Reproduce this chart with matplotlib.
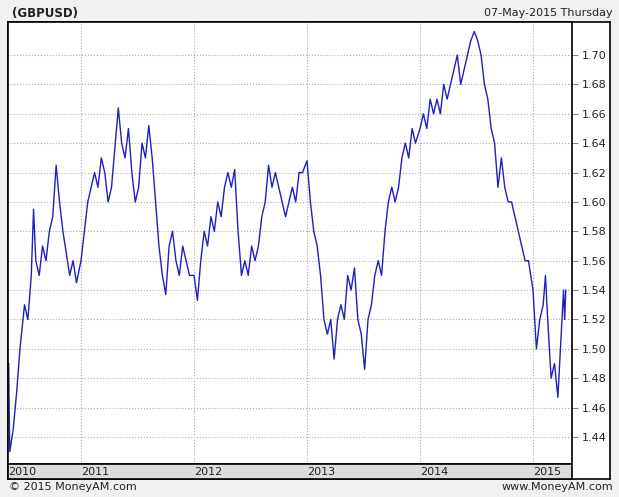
import numpy as np
import matplotlib.pyplot as plt

# GBPUSD, time in fractional years
t = [2010.36, 2010.365, 2010.37, 2010.40, 2010.43, 2010.46, 2010.50, 2010.53, 2010.56, 2010.58,
     2010.60, 2010.63, 2010.66, 2010.69, 2010.72, 2010.75, 2010.78, 2010.81, 2010.84, 2010.87,
     2010.90, 2010.93, 2010.96, 2011.00, 2011.03, 2011.06, 2011.09, 2011.12, 2011.15, 2011.18,
     2011.21, 2011.24, 2011.27, 2011.30, 2011.33, 2011.36, 2011.39, 2011.42, 2011.45, 2011.48,
     2011.51, 2011.54, 2011.57, 2011.60, 2011.63, 2011.66, 2011.69, 2011.72, 2011.75, 2011.78,
     2011.81, 2011.84, 2011.87, 2011.90, 2011.93, 2011.96, 2012.00, 2012.03, 2012.06, 2012.09,
     2012.12, 2012.15, 2012.18, 2012.21, 2012.24, 2012.27, 2012.30, 2012.33, 2012.36, 2012.39,
     2012.42, 2012.45, 2012.48, 2012.51, 2012.54, 2012.57, 2012.60, 2012.63, 2012.66, 2012.69,
     2012.72, 2012.75, 2012.78, 2012.81, 2012.84, 2012.87, 2012.90, 2012.93, 2012.96, 2013.00,
     2013.03, 2013.06, 2013.09, 2013.12, 2013.15, 2013.18, 2013.21, 2013.24, 2013.27, 2013.30,
     2013.33, 2013.36, 2013.39, 2013.42, 2013.45, 2013.48, 2013.51, 2013.54, 2013.57, 2013.60,
     2013.63, 2013.66, 2013.69, 2013.72, 2013.75, 2013.78, 2013.81, 2013.84, 2013.87, 2013.90,
     2013.93, 2013.96, 2014.00, 2014.03, 2014.06, 2014.09, 2014.12, 2014.15, 2014.18, 2014.21,
     2014.24, 2014.27, 2014.30, 2014.33, 2014.36, 2014.39, 2014.42, 2014.45, 2014.48, 2014.51,
     2014.54, 2014.57, 2014.60, 2014.63, 2014.66, 2014.69, 2014.72, 2014.75, 2014.78, 2014.81,
     2014.84, 2014.87, 2014.90, 2014.93, 2014.96, 2015.00, 2015.03, 2015.06, 2015.09, 2015.11,
     2015.13, 2015.16, 2015.19, 2015.22, 2015.25, 2015.27, 2015.28, 2015.29]
price = [1.490, 1.455, 1.430, 1.445, 1.470, 1.500, 1.530, 1.520, 1.550, 1.595,
         1.560, 1.550, 1.570, 1.560, 1.580, 1.590, 1.625, 1.600, 1.580, 1.565,
         1.550, 1.560, 1.545, 1.560, 1.580, 1.600, 1.610, 1.620, 1.610, 1.630,
         1.620, 1.600, 1.610, 1.637, 1.664, 1.640, 1.630, 1.650, 1.620, 1.600,
         1.610, 1.640, 1.630, 1.652, 1.630, 1.600, 1.570, 1.550, 1.537, 1.570,
         1.580, 1.560, 1.550, 1.570, 1.560, 1.550, 1.550, 1.533, 1.560, 1.580,
         1.570, 1.590, 1.580, 1.600, 1.590, 1.610, 1.620, 1.610, 1.622, 1.580,
         1.550, 1.560, 1.550, 1.570, 1.560, 1.570, 1.590, 1.600, 1.625, 1.610,
         1.620, 1.610, 1.600, 1.590, 1.600, 1.610, 1.600, 1.620, 1.620, 1.628,
         1.600, 1.580, 1.570, 1.550, 1.520, 1.510, 1.520, 1.493, 1.520, 1.530,
         1.520, 1.550, 1.540, 1.555, 1.520, 1.510, 1.486, 1.520, 1.530, 1.550,
         1.560, 1.550, 1.580, 1.600, 1.610, 1.600, 1.610, 1.630, 1.640, 1.630,
         1.650, 1.640, 1.650, 1.660, 1.650, 1.670, 1.660, 1.670, 1.660, 1.680,
         1.670, 1.680, 1.690, 1.700, 1.680, 1.690, 1.700, 1.710, 1.716, 1.710,
         1.700, 1.680, 1.670, 1.650, 1.640, 1.610, 1.630, 1.610, 1.600, 1.600,
         1.590, 1.580, 1.570, 1.560, 1.560, 1.540, 1.500, 1.520, 1.530, 1.550,
         1.520, 1.480, 1.490, 1.467, 1.510, 1.540, 1.520, 1.540]

years = [2010, 2011, 2012, 2013, 2014, 2015]
yticks = [1.44, 1.46, 1.48, 1.50, 1.52, 1.54, 1.56, 1.58, 1.60, 1.62, 1.64, 1.66, 1.68, 1.70]

W, H = 619, 497
fig = plt.figure(figsize=(W / 100, H / 100), dpi=100)
fig.patch.set_facecolor('#f0f0f0')

def box(x0, y0, x1, y1):
    return [x0 / W, 1 - y1 / H, (x1 - x0) / W, (y1 - y0) / H]

# outer white frame including the right label panel
bg = fig.add_axes(box(8, 22, 610, 479))
bg.set_facecolor('white')
bg.set_xticks([]); bg.set_yticks([])
for s in bg.spines.values():
    s.set_linewidth(1.2)

x0, x1 = 2010.354, 2015.345
ax = fig.add_axes(box(8, 22, 572, 464))
ax.plot(t, price, color='#1f1fbf', linewidth=1.0)
ax.set_xlim(x0, x1)
ax.set_ylim(1.4216, 1.7225)
ax.set_xticks(years[1:])
ax.set_xticklabels([])
ax.tick_params(axis='x', length=0)
ax.yaxis.tick_right()
ax.set_yticks(yticks)
ax.set_yticklabels([f'{v:.2f}' for v in yticks], fontsize=8, color='#222222')
ax.tick_params(axis='y', length=4, direction='out', color='#888888', pad=3)
ax.grid(True, color='#aaaaaa', linestyle=':', linewidth=0.8)
for s in ax.spines.values():
    s.set_linewidth(1.2)

# date strip
ds = fig.add_axes(box(8, 464, 572, 479))
ds.set_facecolor('#dcdcdc')
ds.set_xlim(x0, x1)
ds.set_ylim(0, 1)
ds.set_xticks([]); ds.set_yticks([])
for s in ds.spines.values():
    s.set_linewidth(1.2)
for y in years:
    ds.text(max(y, x0) + 0.005, 0.45, str(y), fontsize=8, va='center', ha='left', color='#222222')

fig.text(12 / W, 1 - 13 / H, '(GBPUSD)', fontsize=8.5, fontweight='bold', va='center', color='#222222')
fig.text(613 / W, 1 - 13 / H, '07-May-2015 Thursday', fontsize=8, va='center', ha='right', color='#222222')
fig.text(9 / W, 1 - 487 / H, '© 2015 MoneyAM.com', fontsize=8, va='center', color='#222222')
fig.text(613 / W, 1 - 487 / H, 'www.MoneyAM.com', fontsize=8, va='center', ha='right', color='#222222')

fig.savefig('out.png', dpi=100, facecolor=fig.get_facecolor())
